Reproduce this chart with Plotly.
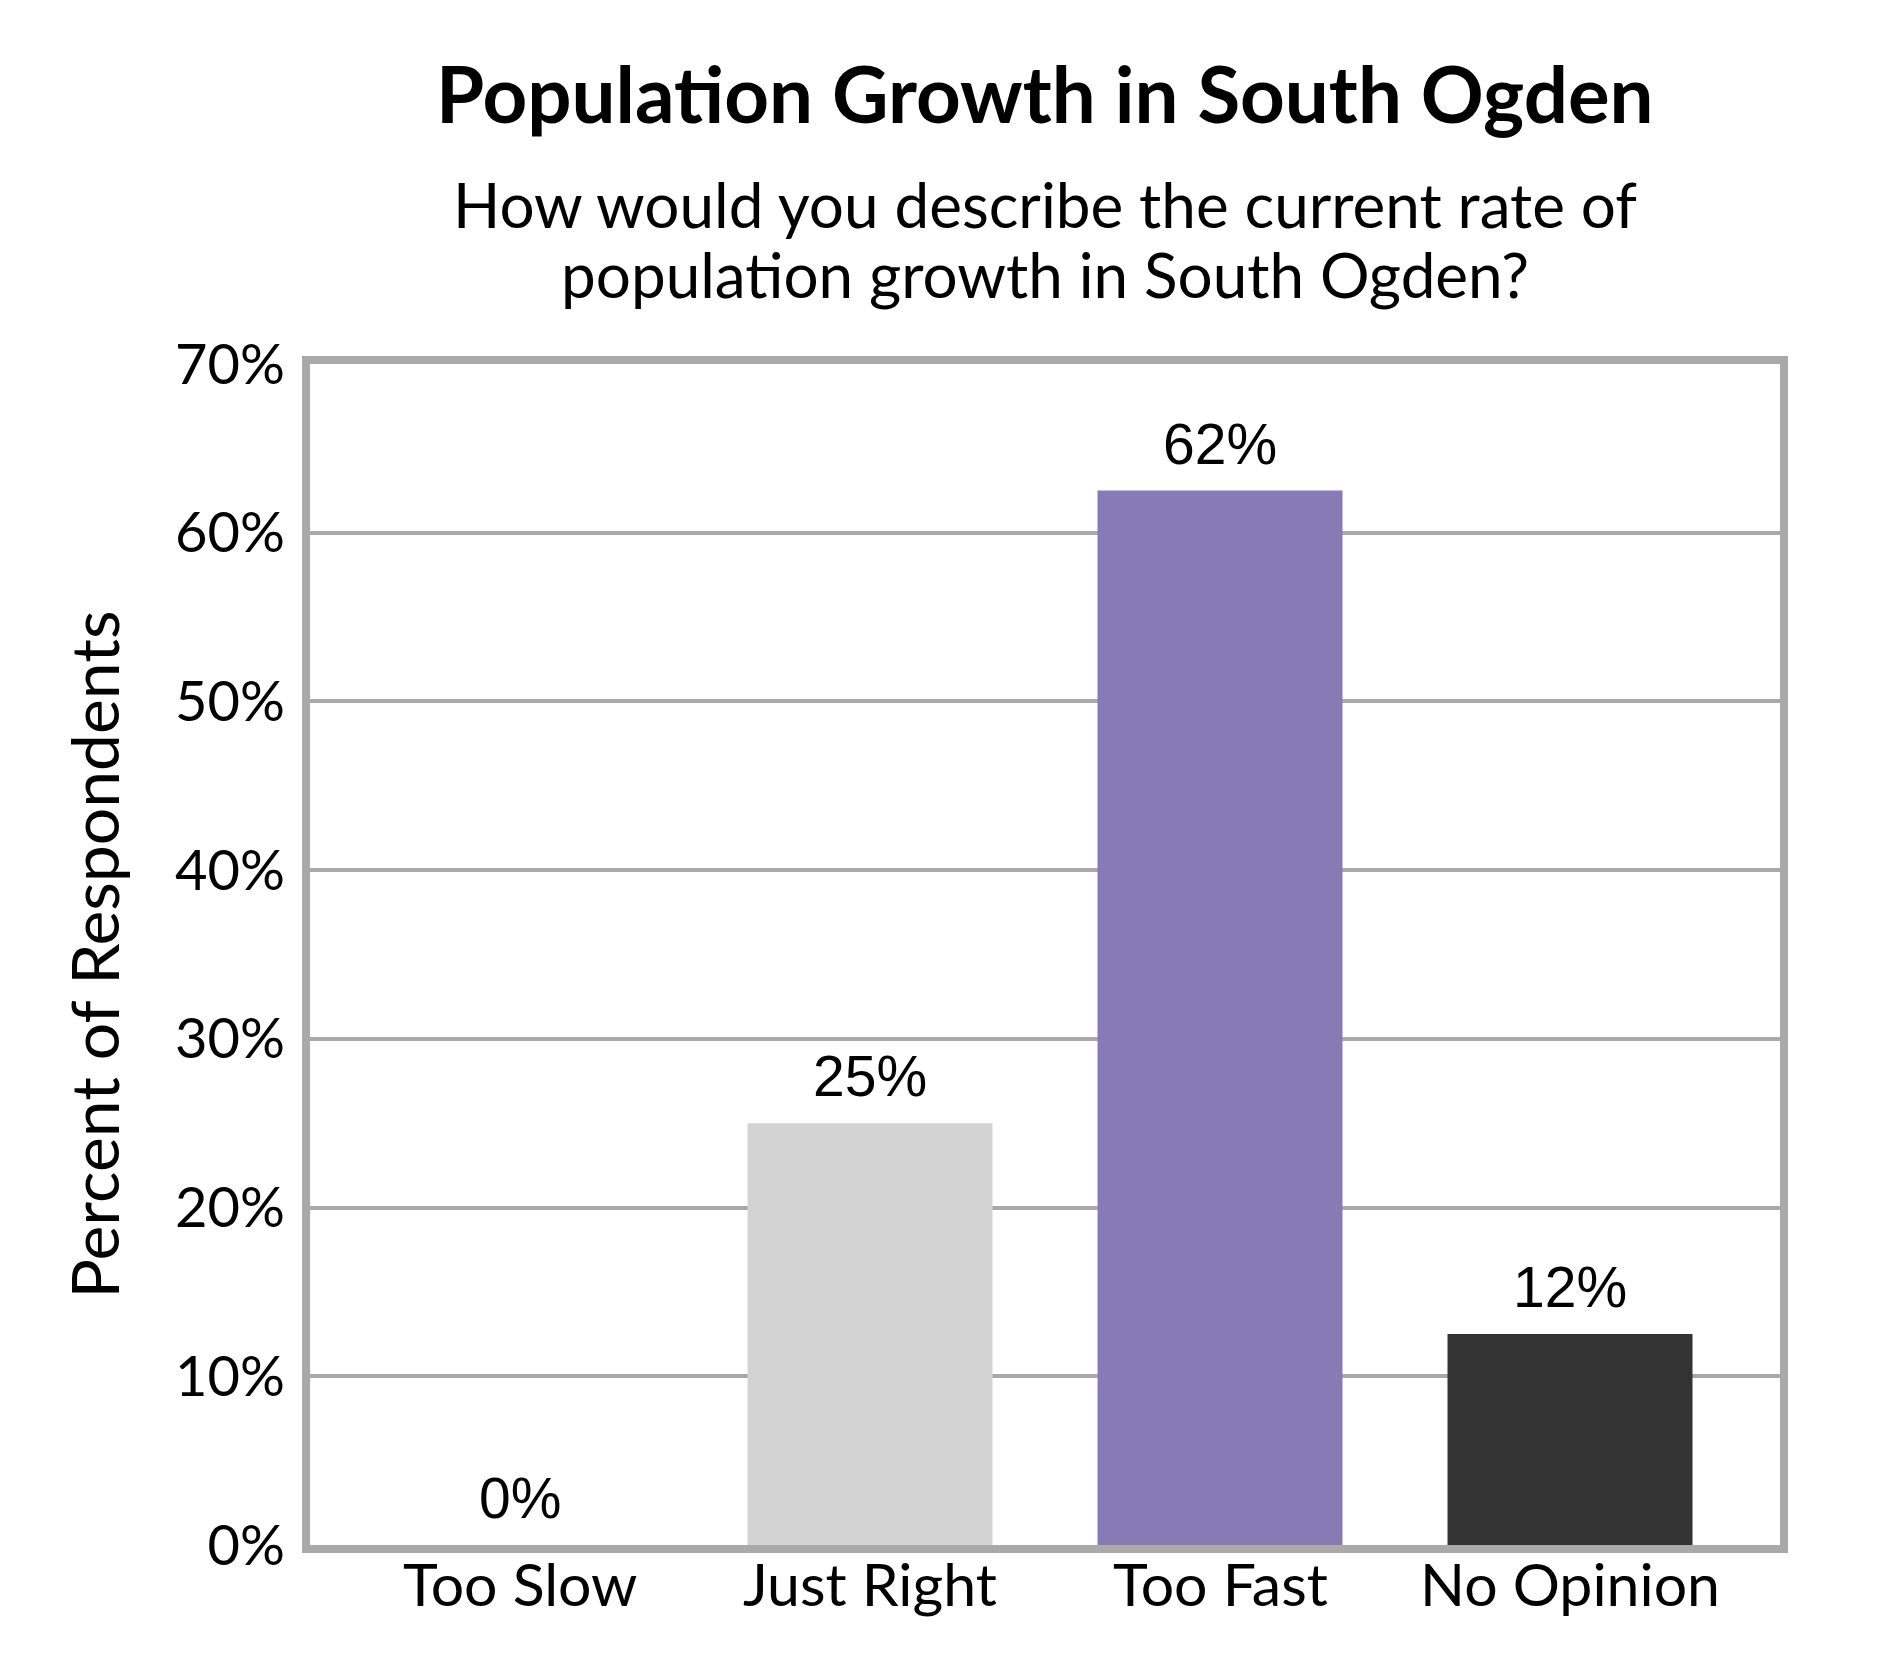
import plotly.graph_objects as go

categories = ["Too Slow", "Just Right", "Too Fast", "No Opinion"]
values = [0, 25, 62.5, 12.5]
value_labels = ["0%", "25%", "62%", "12%"]
bar_colors = ["#ffffff", "#d3d3d3", "#877bb5", "#333333"]
y_ticks = [0, 10, 20, 30, 40, 50, 60, 70]
y_tick_text = ["0%", "10%", "20%", "30%", "40%", "50%", "60%", "70%"]

title_text = "Population Growth in South Ogden"
subtitle_lines = ["How would you describe the current rate of",
                  "population growth in South Ogden?"]
y_title = "Percent of Respondents"

grey = "#a9a9a9"

fig = go.Figure()

fig.add_trace(go.Bar(
    x=categories,
    y=values,
    width=0.7,
    marker=dict(color=bar_colors, line=dict(width=0)),
    hoverinfo="skip"
))

# value labels above bars
for cat, val, lab in zip(categories, values, value_labels):
    fig.add_annotation(
        x=cat, y=val, text=lab, showarrow=False,
        yanchor="bottom", yshift=13,
        font=dict(family="Liberation Sans, Arial", size=57, color="#000000")
    )

# category labels under the axis
for cat in categories:
    fig.add_annotation(
        x=cat, y=0, text=cat, showarrow=False,
        yanchor="top", yshift=-1,
        font=dict(family="Lato", size=59, color="#000000")
    )

# title + subtitle
fig.add_annotation(
    xref="paper", yref="paper", x=0.5, y=1.188,
    text="<b>" + title_text + "</b>",
    showarrow=False, xanchor="center", yanchor="bottom",
    font=dict(family="Lato", size=78, color="#000000")
)
for line, ypos in zip(subtitle_lines, [1.1025, 1.0432]):
    fig.add_annotation(
        xref="paper", yref="paper", x=0.5, y=ypos, text=line,
        showarrow=False, xanchor="center", yanchor="bottom",
        font=dict(family="Lato", size=62, color="#000000")
    )

# y-axis title
fig.add_annotation(
    xref="paper", yref="paper", x=-0.147, y=0.5,
    text=y_title, textangle=-90,
    showarrow=False, xanchor="center", yanchor="middle",
    font=dict(family="Lato", size=66, color="#000000")
)

fig.update_layout(
    width=1890, height=1680,
    margin=dict(l=302, r=118, t=356, b=143),
    paper_bgcolor="white", plot_bgcolor="white",
    showlegend=False,
    font=dict(family="Lato", color="#000000"),
    xaxis=dict(
        range=[-0.6, 3.6],
        showline=True, linecolor=grey, linewidth=8, mirror=True,
        showgrid=False, ticks="", showticklabels=False,
        layer="below traces", fixedrange=True
    ),
    yaxis=dict(
        range=[0, 70],
        tickvals=y_ticks, ticktext=y_tick_text,
        showline=True, linecolor=grey, linewidth=8, mirror=True,
        showgrid=True, gridcolor=grey, gridwidth=4,
        zeroline=False, ticks="", layer="below traces",
        tickfont=dict(family="Lato", size=56),
        ticklabelstandoff=6,
        fixedrange=True
    )
)

fig.write_html("out.html")
